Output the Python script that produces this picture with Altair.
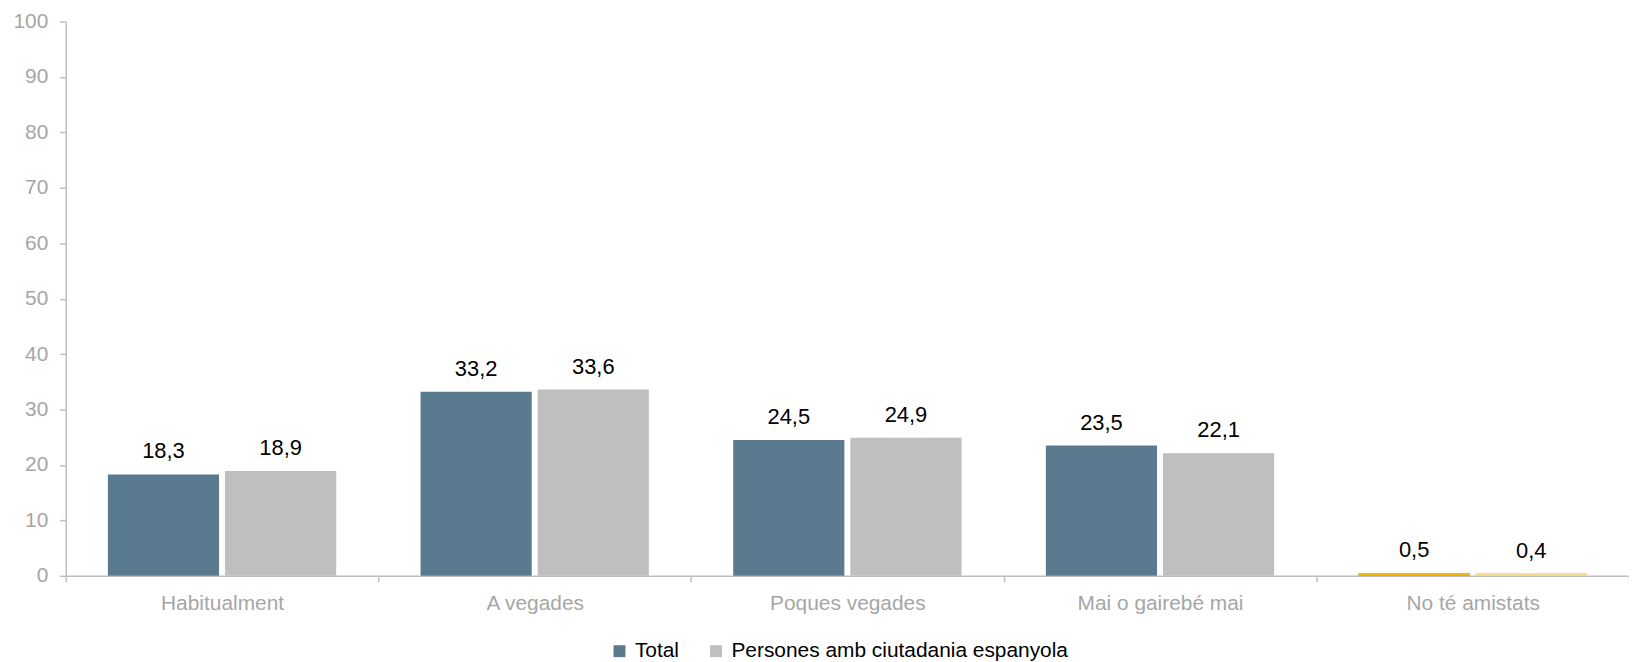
import altair as alt
import pandas as pd

categories = ["Habitualment", "A vegades", "Poques vegades", "Mai o gairebé mai", "No té amistats"]
series = ["Total", "Persones amb ciutadania espanyola"]
total_values = [18.3, 33.2, 24.5, 23.5, 0.5]
spanish_values = [18.9, 33.6, 24.9, 22.1, 0.4]
series_colors = ["#5A7B8F", "#BFBFBF"]
highlight_colors = ["#F5B800", "#F7DC8F"]

rows = []
for i, c in enumerate(categories):
    for s, vals, hc in zip(series, [total_values, spanish_values], highlight_colors):
        v = vals[i]
        rows.append({
            "cat": c,
            "series": s,
            "value": v,
            "label": f"{v:.1f}".replace(".", ","),
            "hcolor": hc,
            "last": c == categories[-1],
        })
df = pd.DataFrame(rows)

FONT = "Liberation Sans"
W, H = 1571, 557

x = alt.X("cat:N", sort=categories, title=None,
          scale=alt.Scale(paddingInner=0, paddingOuter=0),
          axis=alt.Axis(labelAngle=0, labelColor="#A6A6A6", labelFontSize=21, labelFont=FONT,
                        labelPadding=11, domainColor="#BFBFBF", tickColor="#BFBFBF",
                        tickSize=6, tickBand="extent", domainWidth=1.5, tickWidth=1.5))
xo = alt.XOffset("series:N", sort=series,
                 scale=alt.Scale(paddingInner=0.051, paddingOuter=0.36))
y = alt.Y("value:Q", title=None,
          scale=alt.Scale(domain=[0, 100]),
          axis=alt.Axis(values=list(range(0, 101, 10)), grid=False, labelColor="#A6A6A6",
                        labelFontSize=21, labelFont=FONT, labelPadding=12,
                        domainColor="#BFBFBF", tickColor="#BFBFBF", tickSize=6,
                        domainWidth=1.5, tickWidth=1.5))

base = alt.Chart(df)

bars = base.mark_bar().encode(
    x=x, xOffset=xo, y=y,
    color=alt.Color("series:N", sort=series,
                    scale=alt.Scale(domain=series, range=series_colors),
                    legend=alt.Legend(title=None, orient="none", legendX=546, legendY=622,
                                      direction="horizontal", symbolType="square",
                                      symbolSize=144, symbolStrokeWidth=0,
                                      labelFont=FONT, labelFontSize=21, labelColor="#000000",
                                      labelOffset=5, columnPadding=26, labelLimit=0)),
)

highlight = base.transform_filter("datum.last").mark_bar().encode(
    x=alt.X("cat:N", sort=categories), xOffset=xo, y="value:Q",
    color=alt.Color("hcolor:N", scale=None, legend=None),
)

labels = base.mark_text(baseline="alphabetic", dy=-16, font=FONT, fontSize=22, color="#000000").encode(
    x=alt.X("cat:N", sort=categories), xOffset=xo, y="value:Q", text="label:N",
)

chart = alt.layer(bars, highlight, labels).properties(
    width=W, height=H,
    autosize=alt.AutoSizeParams(type="none"),
    padding={"left": 58, "top": 12, "right": 0, "bottom": 85},
).configure_view(stroke=None)

chart.save("out.html", embed_options={"renderer": "svg", "actions": False})
